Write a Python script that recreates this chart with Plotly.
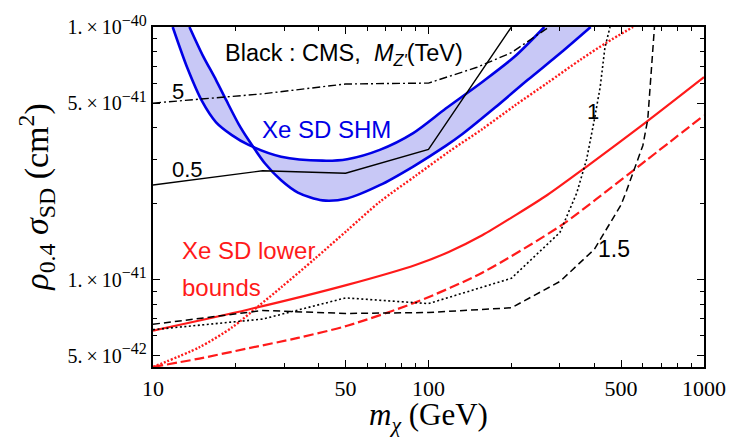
import numpy as np
import plotly.graph_objects as go

# ---------------- data ----------------
# Xe SD SHM band (blue): upper and lower edges
shm_up_m = [11.79, 13.34, 15.10, 16.94, 19.33, 22.23, 29.18, 41.25, 50.68, 66.53, 88.0, 115.5, 156.7, 205.6, 263.3]
shm_up_s = [1.0e-40, 6.867e-41, 5.065e-41, 4.198e-41, 3.737e-41, 3.417e-41, 3.069e-41, 2.960e-41, 3.000e-41,
            3.266e-41, 3.805e-41, 4.757e-41, 6.060e-41, 7.642e-41, 1.0e-40]
shm_lo_m = [13.56, 15.10, 16.94, 18.40, 20.48, 22.23, 25.51, 29.18, 33.57, 41.25, 50.68, 66.53, 88.0,
            115.5, 132.8, 174.4, 228.8, 302.8, 387.8]
shm_lo_s = [1.0e-40, 7.78e-41, 6.166e-41, 5.158e-41, 4.122e-41, 3.573e-41, 2.883e-41, 2.475e-41, 2.213e-41,
            2.061e-41, 2.098e-41, 2.367e-41, 2.806e-41, 3.385e-41, 3.771e-41, 4.800e-41, 6.166e-41,
            7.925e-41, 1.0e-40]

# CMS limits (black), labelled by M_Z' in TeV
cms05_m = [10, 25, 50, 100, 200]
cms05_s = [2.37e-41, 2.70e-41, 2.64e-41, 3.28e-41, 1.0e-40]
cms5_m = [10, 25, 50, 100, 150, 200, 300]
cms5_s = [5.0e-41, 5.44e-41, 5.95e-41, 6.0e-41, 6.93e-41, 7.92e-41, 1.07e-40]
cms1_m = [10, 25, 50, 100, 200, 300, 345, 375, 400, 420, 437, 456]
cms1_s = [6.35e-42, 6.99e-42, 8.48e-42, 8.05e-42, 1.014e-41, 1.54e-41, 2.2e-41, 3.0e-41,
          4.3e-41, 5.8e-41, 8.3e-41, 1.0e-40]
cms15_m = [10, 25, 50, 100, 200, 300, 400, 500, 523, 600, 625, 643, 661]
cms15_s = [6.67e-42, 7.56e-42, 7.36e-42, 7.42e-42, 7.75e-42, 9.85e-42, 1.32e-41, 1.98e-41,
           2.245e-41, 3.40e-41, 4.31e-41, 6.74e-41, 1.0e-40]

# Xe SD lower bounds (red)
red_solid_m = [10, 22.23, 50.68, 90.22, 118.4, 156.7, 205.6, 269.9, 375.1, 615.1, 1000]
red_solid_s = [6.296e-42, 7.63e-42, 9.545e-42, 1.147e-41, 1.288e-41, 1.500e-41, 1.794e-41, 2.165e-41,
               2.806e-41, 4.198e-41, 6.335e-41]
red_dot_m = [10, 14.73, 19.33, 24.15, 29.18, 38.63, 50.68, 66.53, 90.22, 118.4, 156.7, 205.6, 269.9,
             357.1, 442.4, 552.6]
red_dot_s = [4.52e-42, 5.41e-42, 6.47e-42, 7.87e-42, 9.33e-42, 1.21e-41, 1.568e-41, 2.033e-41, 2.588e-41,
             3.208e-41, 3.943e-41, 4.888e-41, 6.006e-41, 7.44e-41, 8.667e-41, 1.0e-40]
red_dash_m = [10, 14.73, 22.23, 33.57, 50.68, 90.22, 156.7, 302.8, 407.4, 615.1, 1000]
red_dash_s = [4.52e-42, 4.88e-42, 5.36e-42, 5.89e-42, 6.58e-42, 8.16e-42, 1.067e-41, 1.641e-41,
              2.089e-41, 2.960e-41, 4.468e-41]

# ticks
x_tickvals = [10, 50, 100, 500, 1000]
x_ticktext = ["10", "50", "100", "500", "1000"]
x_minor = [20, 30, 40, 60, 70, 80, 90, 200, 300, 400, 600, 700, 800, 900]
y_tickvals = [5e-42, 1e-41, 5e-41, 1e-40]
y_exps = ["−42", "−41", "−41", "−40"]
y_mant = ["5.", "1.", "5.", "1."]
y_minor = [6e-42, 7e-42, 8e-42, 9e-42, 2e-41, 3e-41, 4e-41, 6e-41, 7e-41, 8e-41, 9e-41]
y_ticktext = [f"{m}\u2009×\u200910<sup><span style='font-size:16px'>{e}</span></sup>"
              for m, e in zip(y_mant, y_exps)]

# ---------------- figure ----------------
BLUE = "#0000e6"
RED = "#ff1a1a"
FILL = "rgb(200,200,246)"
SM = 0.8

fig = go.Figure()

fig.add_trace(go.Scatter(x=shm_lo_m, y=shm_lo_s, mode="lines",
                         line=dict(color=BLUE, width=2.6, shape="spline", smoothing=SM), showlegend=False))
fig.add_trace(go.Scatter(x=shm_up_m, y=shm_up_s, mode="lines", fill="tonexty", fillcolor=FILL,
                         line=dict(color=BLUE, width=2.6, shape="spline", smoothing=SM), showlegend=False))

fig.add_trace(go.Scatter(x=red_dot_m, y=red_dot_s, mode="lines",
                         line=dict(color=RED, width=2.4, dash="2px,1.8px", shape="spline", smoothing=SM),
                         showlegend=False))
fig.add_trace(go.Scatter(x=red_dash_m, y=red_dash_s, mode="lines",
                         line=dict(color=RED, width=2.2, dash="10px,4px", shape="spline", smoothing=SM),
                         showlegend=False))
fig.add_trace(go.Scatter(x=red_solid_m, y=red_solid_s, mode="lines",
                         line=dict(color=RED, width=2.2, shape="spline", smoothing=SM), showlegend=False))

fig.add_trace(go.Scatter(x=cms5_m, y=cms5_s, mode="lines",
                         line=dict(color="black", width=1.4, dash="8px,3px,2px,3px"), showlegend=False))
fig.add_trace(go.Scatter(x=cms05_m, y=cms05_s, mode="lines",
                         line=dict(color="black", width=1.4), showlegend=False))
fig.add_trace(go.Scatter(x=cms1_m, y=cms1_s, mode="lines",
                         line=dict(color="black", width=1.6, dash="2px,2.5px"), showlegend=False))
fig.add_trace(go.Scatter(x=cms15_m, y=cms15_s, mode="lines",
                         line=dict(color="black", width=1.5, dash="7px,4px"), showlegend=False))

SANS = "Liberation Sans, Arial, sans-serif"
SERIF = "Liberation Serif, Times New Roman, serif"


def lab(text, xm, ys, color="black", size=22, xanchor="center"):
    fig.add_annotation(x=np.log10(xm), y=np.log10(ys), xref="x", yref="y", text=text,
                       showarrow=False, xanchor=xanchor, yanchor="middle",
                       font=dict(family=SANS, size=size, color=color))


lab("Black : CMS,  <i>M</i><sub><i>Z'</i></sub>(TeV)", 17.9, 10**-40.109, size=23.5, xanchor="left")
lab("5", 12.29, 10**-40.2553)
lab("0.5", 13.34, 10**-40.5636)
lab("Xe SD SHM", 42.5, 10**-40.4042, color=BLUE, size=24)
lab("1", 396, 10**-40.3342)
lab("1.5", 472.6, 10**-40.878, size=23)
lab("Xe SD lower", 12.5, 10**-40.886, color=RED, size=24, xanchor="left")
lab("bounds", 12.5, 10**-41.030, color=RED, size=24, xanchor="left")

# axis titles
fig.add_annotation(x=0.5, y=-0.146, xref="paper", yref="paper", showarrow=False,
                   text="<i>m</i><sub><i>χ</i></sub> (GeV)", xanchor="center", yanchor="middle",
                   font=dict(family=SERIF, size=31, color="black"))
fig.add_annotation(x=-0.213, y=0.5, xref="paper", yref="paper", showarrow=False, textangle=-90,
                   text="<i>ρ</i><sub>0.4</sub> <i>σ</i><sub>SD</sub> (cm<sup>2</sup>)",
                   xanchor="center", yanchor="middle",
                   font=dict(family=SERIF, size=34, color="black"))

fig.update_xaxes(type="log", range=[1, 3], showgrid=False, zeroline=False,
                 showline=True, linecolor="black", linewidth=2.4, mirror="allticks",
                 ticks="inside", ticklen=7, tickwidth=1.2, tickcolor="black",
                 tickmode="array", tickvals=x_tickvals, ticktext=x_ticktext,
                 tickfont=dict(family=SERIF, size=22, color="black"),
                 minor=dict(tickmode="array", tickvals=x_minor, ticks="inside", ticklen=4,
                            tickwidth=1, tickcolor="black", showgrid=False))
fig.update_yaxes(type="log", range=[-41.345, -40], showgrid=False, zeroline=False,
                 showline=True, linecolor="black", linewidth=2.4, mirror="allticks",
                 ticks="inside", ticklen=7, tickwidth=1.2, tickcolor="black",
                 tickmode="array", tickvals=y_tickvals, ticktext=y_ticktext,
                 tickfont=dict(family=SERIF, size=20, color="black"),
                 minor=dict(tickmode="array", tickvals=y_minor, ticks="inside", ticklen=4,
                            tickwidth=1, tickcolor="black", showgrid=False))

fig.update_layout(width=738, height=438, margin=dict(l=153, r=26, t=21, b=71),
                  paper_bgcolor="white", plot_bgcolor="white", showlegend=False)

fig.write_html("out.html", config={"displayModeBar": False},
               post_script="document.body.style.margin='0px';document.body.style.overflow='hidden';")
